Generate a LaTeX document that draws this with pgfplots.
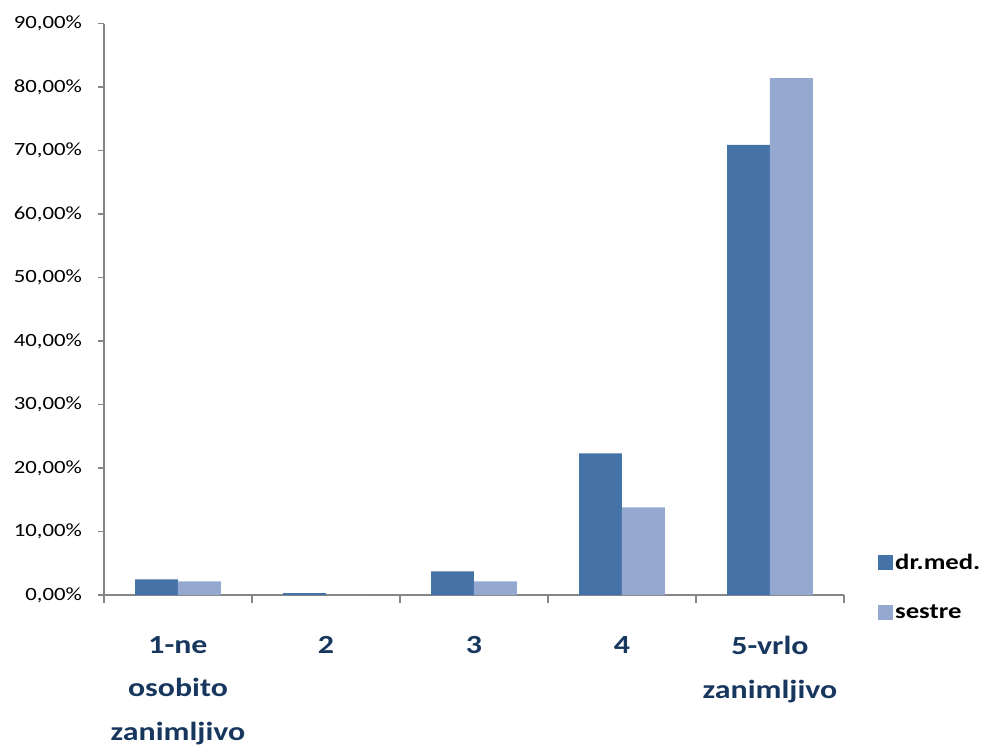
\documentclass[border=0pt]{standalone}
\usepackage{pgfplots}
\pgfplotsset{compat=1.18}
\usepackage{fontspec}
\setmainfont{Carlito}[FakeStretch=1.22]
\definecolor{drmed}{HTML}{4572A7}
\definecolor{sestre}{HTML}{95A9D0}
\definecolor{axgray}{HTML}{868686}
\definecolor{catblue}{HTML}{17375E}
\begin{document}
\begin{tikzpicture}[x=0.75pt,y=0.75pt]
\begin{axis}[
  name=ax,
  at={(0,0)}, anchor=south west,
  scale only axis,
  width=555pt, height=428.6pt,
  xmin=-0.5, xmax=4.5, ymin=0, ymax=90,
  ybar=0pt, bar width=0.29,
  axis x line*=bottom, axis y line*=left,
  axis line style={axgray, line width=1pt},
  xtick={0,1,2,3,4},
  xticklabels={{1-ne\\osobito\\zanimljivo},2,3,4,{5-vrlo\\zanimljivo}},
  major x tick style={draw=none},
  minor xtick={-0.5,0.5,1.5,2.5,3.5,4.5},
  minor x tick style={axgray, line width=1pt},
  minor tick length=6pt,
  tick align=outside,
  ytick={0,10,20,30,40,50,60,70,80,90},
  yticklabels={{0,00\%},{10,00\%},{20,00\%},{30,00\%},{40,00\%},{50,00\%},{60,00\%},{70,00\%},{80,00\%},{90,00\%}},
  major y tick style={axgray, line width=1pt},
  major tick length=4.5pt,
  yticklabel style={font=\fontsize{14}{16}\selectfont, anchor=east, xshift=-8.5pt},
  xticklabel style={font=\fontsize{19.6}{32.5}\selectfont\bfseries, text=catblue, align=center, anchor=north, yshift=-23pt},
  legend style={at={(1.04,0.014)}, anchor=west, draw=none, fill=none,
    font=\fontsize{16.4}{18}\selectfont\bfseries, row sep=21pt,
    /tikz/every even column/.append style={column sep=4.5pt}},
  legend cell align=left,
  legend image code/.code={\fill[#1] (0pt,-5.5pt) rectangle (11pt,5.5pt);},
  clip=false,
]
\addplot[fill=drmed, draw=none] coordinates {(0,2.47) (1,0.3) (2,3.74) (3,22.3) (4,70.9)};
\addplot[fill=sestre, draw=none] coordinates {(0,2.16) (1,0) (2,2.16) (3,13.8) (4,81.4)};
\legend{dr.med.,sestre}
\end{axis}
\path (ax.south west) ++(-78pt,-114pt) rectangle ++(740.25pt,560.25pt);
\end{tikzpicture}
\end{document}
